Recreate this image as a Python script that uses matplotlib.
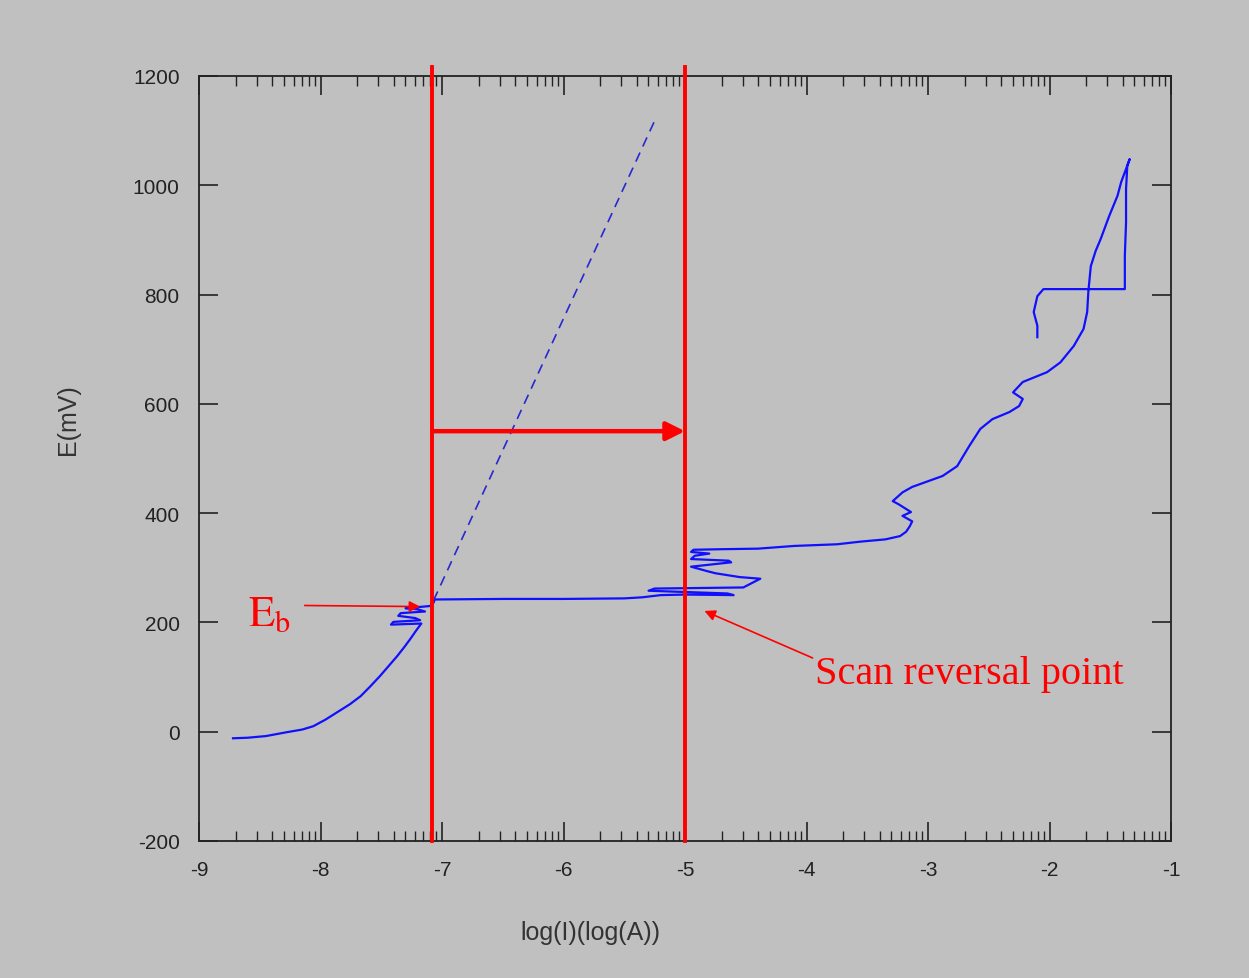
import matplotlib
matplotlib.use("Agg")
import matplotlib.pyplot as plt
import numpy as np

plt.rcParams["axes.unicode_minus"] = False

# polarization scan, log(I) vs E(mV)
log_i = [
    -8.72, -8.60, -8.45, -8.28, -8.15, -8.06, -7.96, -7.86, -7.76, -7.67,
    -7.59, -7.51, -7.44, -7.37, -7.31, -7.26, -7.21, -7.17,
    -7.42, -7.40, -7.18, -7.22, -7.36, -7.34, -7.14, -7.20, -7.30, -7.10,
    -7.07, -7.06,
    -6.50, -6.00, -5.50, -5.35, -5.20, -5.00, -4.60, -4.65, -5.30, -5.25,
    -4.52, -4.45, -4.38, -4.55, -4.75, -4.82, -4.95, -4.62, -4.64, -4.95,
    -4.92, -4.80, -4.95, -4.93, -4.70, -4.40, -4.10, -3.75, -3.55, -3.35,
    -3.23, -3.18, -3.15, -3.13, -3.21, -3.14, -3.24, -3.29, -3.21, -3.13,
    -2.88, -2.76, -2.66, -2.57, -2.47, -2.33, -2.25, -2.22, -2.30, -2.22,
    -2.02, -1.91, -1.80, -1.72, -1.69, -1.68, -1.66, -1.62, -1.58, -1.51,
    -1.44, -1.41, -1.34,
    -1.36, -1.37, -1.37, -1.38, -1.38, -1.38, -2.05, -2.10, -2.13, -2.10,
    -2.10,
]
e_mv = [
    -12, -11, -8, -1, 4, 10, 22, 36, 50, 65,
    83, 102, 120, 138, 155, 170, 186, 198,
    196, 201, 204, 208, 212, 217, 220, 224, 226, 230,
    236, 242,
    243, 243, 244, 246, 250, 251, 250, 253, 258, 262,
    264, 272, 280, 283, 290, 294, 302, 310, 313, 316,
    322, 326, 329, 333, 334, 335, 340, 343, 348, 352,
    358, 366, 376, 385, 395, 402, 416, 422, 438, 448,
    468, 486, 523, 554, 572, 585, 596, 609, 621, 640,
    658, 676, 706, 737, 768, 806, 852, 880, 901, 943,
    981, 1006, 1048,
    1035, 993, 932, 871, 823, 810, 810, 797, 768, 743,
    722,
]

# tafel-like extrapolation (dashed)
tafel_x = [-7.07, -5.25]
tafel_e = [240, 1118]

# markers
x_eb = -7.08
x_rev = -5.0
e_arrow = 550
e_b = 231

BG = "#c0c0c0"
RED = "#ff0000"
BLUE = "#1010ff"

fig = plt.figure(figsize=(12.49, 9.79), dpi=100, facecolor=BG)
ax = fig.add_axes([199 / 1249, 1 - 842 / 979, (1171 - 199) / 1249, (842 - 77) / 979])
ax.set_facecolor(BG)

ax.plot(log_i, e_mv, color=BLUE, lw=1.6, zorder=3)
ax.plot(tafel_x, tafel_e, color="#2828d0", lw=1.2, ls=(0, (6, 4)), zorder=3)

# red vertical markers (run a bit above the frame)
for xv in (x_eb, x_rev):
    ax.plot([xv, xv], [-200, 1217], color=RED, lw=2.8, clip_on=False, zorder=4)

ax.annotate("", xy=(x_rev, e_arrow), xytext=(x_eb, e_arrow),
            arrowprops=dict(arrowstyle="-|>", color=RED, lw=3.2, mutation_scale=28,
                            shrinkA=0, shrinkB=0), zorder=5)

ax.annotate("", xy=(-7.18, e_b - 2), xytext=(-8.13, e_b),
            arrowprops=dict(arrowstyle="-|>", color=RED, lw=1.2, mutation_scale=16,
                            shrinkA=0, shrinkB=0))
ax.text(-8.42, 218, r"$\mathrm{E_b}$", color=RED, fontsize=31,
        ha="center", va="center", math_fontfamily="stix")

ax.annotate("", xy=(-4.84, 221), xytext=(-3.95, 135),
            arrowprops=dict(arrowstyle="-|>", color=RED, lw=1.2, mutation_scale=16,
                            shrinkA=0, shrinkB=0))
ax.text(-3.93, 106, "Scan reversal point", color=RED, fontsize=29,
        family="Liberation Serif", ha="left", va="center")

ax.set_xlim(-9, -1)
ax.set_ylim(-200, 1200)
ax.set_xticks(np.arange(-9, 0))
minor = [d + np.log10(k) for d in range(-9, -1) for k in range(2, 10)]
ax.set_xticks(minor, minor=True)
ax.set_yticks(np.arange(-200, 1201, 200))

ax.tick_params(axis="both", which="major", direction="in", top=True, right=True,
               length=14, width=1.2, color="#222222", labelsize=15, pad=14,
               labelcolor="#222222")
ax.tick_params(axis="x", which="minor", direction="in", top=True,
               length=7, width=1.0, color="#222222")
for lbl in ax.get_xticklabels() + ax.get_yticklabels():
    lbl.set_family("Liberation Sans")
for sp in ax.spines.values():
    sp.set_linewidth(1.3)
    sp.set_color("#222222")

fig.text(68 / 1249, 1 - 420 / 979, "E(mV)", rotation=90, ha="center", va="center",
         fontsize=18, family="Liberation Sans", color="#333333")
fig.text(590 / 1249, 1 - 933 / 979, "log(I)(log(A))", ha="center", va="center",
         fontsize=18, family="Liberation Sans", color="#333333")

fig.savefig("out.png", dpi=100, facecolor=BG)
